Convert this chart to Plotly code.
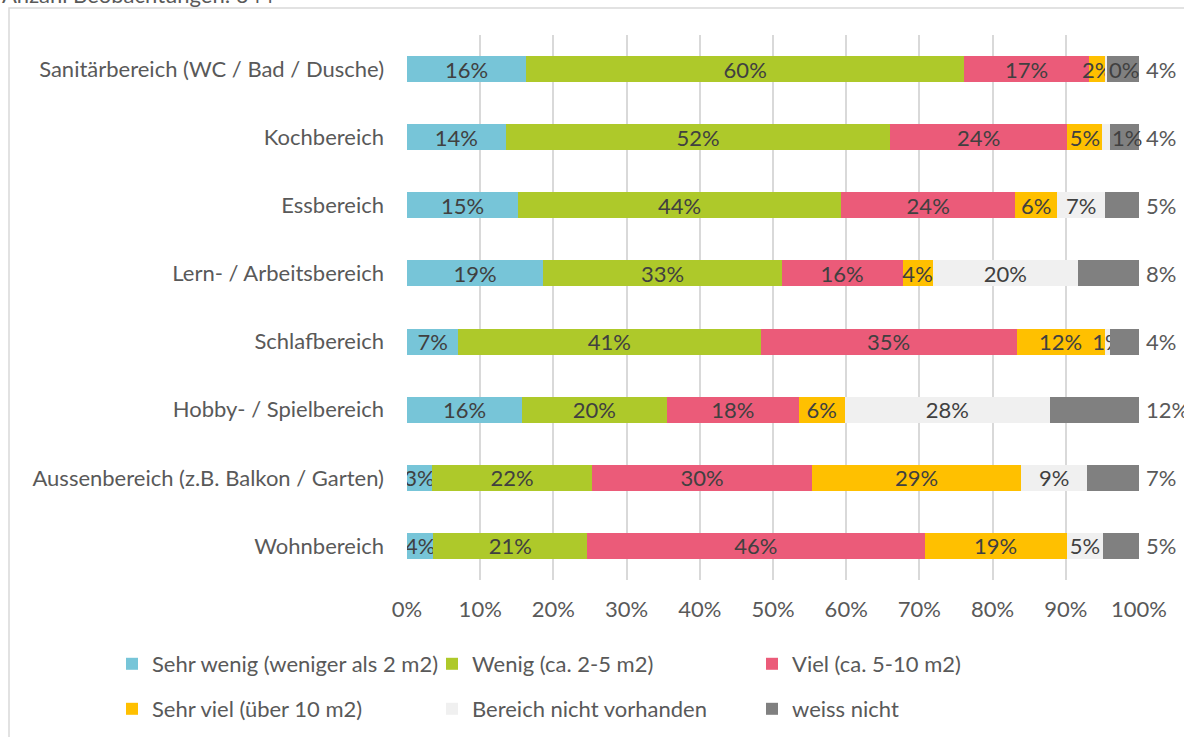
import plotly.graph_objects as go

categories = [
    "Sanitärbereich (WC / Bad / Dusche)",
    "Kochbereich",
    "Essbereich",
    "Lern- / Arbeitsbereich",
    "Schlafbereich",
    "Hobby- / Spielbereich",
    "Aussenbereich (z.B. Balkon / Garten)",
    "Wohnbereich",
]
series_names = [
    "Sehr wenig (weniger als 2 m2)",
    "Wenig (ca. 2-5 m2)",
    "Viel (ca. 5-10 m2)",
    "Sehr viel (über 10 m2)",
    "Bereich nicht vorhanden",
    "weiss nicht",
]
sehr_wenig = [16.3, 13.5, 15.2, 18.6, 7.0, 15.7, 3.4, 3.6]
wenig = [59.8, 52.5, 44.1, 32.6, 41.3, 19.8, 21.9, 21.0]
viel = [17.1, 24.2, 23.8, 16.5, 35.0, 18.0, 30.0, 46.1]
sehr_viel = [2.2, 4.8, 5.7, 4.1, 12.0, 6.3, 28.6, 19.4]
nicht_vorhanden = [0.2, 1.0, 6.6, 19.9, 0.8, 28.0, 9.0, 5.0]
weiss_nicht = [4.4, 4.0, 4.6, 8.3, 3.9, 12.2, 7.1, 4.9]
colors = ["#77C5D8", "#AEC92A", "#EB5B79", "#FFC000", "#F0F0F0", "#808080"]
x_ticks = [0, 10, 20, 30, 40, 50, 60, 70, 80, 90, 100]
x_tick_labels = [f"{t}%" for t in x_ticks]
note = "Anzahl Beobachtungen: 644"

FONT = "Lato"
FS = 22
TXT = "#595959"
LBL = "#404040"

all_series = [sehr_wenig, wenig, viel, sehr_viel, nicht_vorhanden, weiss_nicht]

# tiny "nicht vorhanden" segments squeezed next to a small "sehr viel" segment:
# their label is placed just right of the segment instead of centred on it
squeezed = [nv < 2 and sv < 6 for nv, sv in zip(nicht_vorhanden, sehr_viel)]

fig = go.Figure()
for i, (name, vals, col) in enumerate(zip(series_names, all_series, colors)):
    if i == 5:
        texts = None
    elif i == 4:
        texts = ["" if sq else f"{round(v)}%" for v, sq in zip(vals, squeezed)]
    else:
        texts = [f"{round(v)}%" for v in vals]
    fig.add_trace(go.Bar(
        y=categories, x=vals, name=name, orientation="h",
        marker=dict(color=col, line=dict(width=0)),
        text=texts,
        textposition="inside" if texts is not None else "none",
        insidetextanchor="middle",
        textangle=0,
        textfont=dict(family=FONT, size=FS, color=LBL),
        legend="legend" if i < 3 else "legend2",
        hoverinfo="x+name",
    ))

legend_common = dict(
    orientation="h", x=-0.403, xanchor="left", yanchor="middle",
    traceorder="normal",
    entrywidth=275, entrywidthmode="pixels", itemwidth=30,
    font=dict(family=FONT, size=FS, color=TXT), bgcolor="rgba(0,0,0,0)",
)

fig.update_layout(
    width=1184, height=737,
    barmode="stack", bargap=0.62,
    plot_bgcolor="white", paper_bgcolor="white",
    margin=dict(l=407, r=45, t=35, b=157, autoexpand=False),
    font=dict(family=FONT, size=FS, color=TXT),
    uniformtext=dict(mode="show", minsize=FS),
    xaxis=dict(
        range=[0, 100], tickmode="array", tickvals=x_ticks, ticktext=x_tick_labels,
        showgrid=True, gridcolor="#D9D9D9", gridwidth=2,
        zeroline=False, showline=False, ticks="",
        ticklabelstandoff=14, fixedrange=True,
    ),
    yaxis=dict(
        categoryorder="array", categoryarray=categories,
        autorange="reversed", showgrid=False, ticks="",
        ticklabelstandoff=22, fixedrange=True,
    ),
    legend=dict(legend_common, y=-0.1541),
    legend2=dict(legend_common, y=-0.2367),
    showlegend=True,
)

# labels of squeezed "nicht vorhanden" segments
for k, cat in enumerate(categories):
    if squeezed[k]:
        end = sum(s[k] for s in all_series[:5])
        fig.add_annotation(
            x=end, y=cat, xref="x", yref="y", text=f"{round(nicht_vorhanden[k])}%",
            xanchor="left", yanchor="middle", xshift=0, showarrow=False,
            font=dict(family=FONT, size=FS, color=LBL),
        )

# weiss nicht labels to the right of the bars
totals = [a + b + c + d + e + f for a, b, c, d, e, f in zip(*all_series)]
for cat, tot, v in zip(categories, totals, weiss_nicht):
    fig.add_annotation(
        x=tot, y=cat, xref="x", yref="y", text=f"{round(v)}%",
        xanchor="left", yanchor="middle", xshift=5, showarrow=False,
        font=dict(family=FONT, size=FS, color=TXT),
    )

fig.add_annotation(
    text=note, xref="paper", yref="paper", x=-0.556, y=1.0752,
    xanchor="left", yanchor="middle", showarrow=False,
    font=dict(family=FONT, size=FS, color=TXT),
)
fig.add_shape(
    type="path", xref="paper", yref="paper",
    path="M -0.5437,-0.6 L -0.5437,1.0495 L 1.1,1.0495",
    line=dict(color="#D9D9D9", width=1.5),
)

fig.write_html(
    "out.html",
    config={"displayModeBar": False},
    post_script="document.body.style.margin='0';",
)
